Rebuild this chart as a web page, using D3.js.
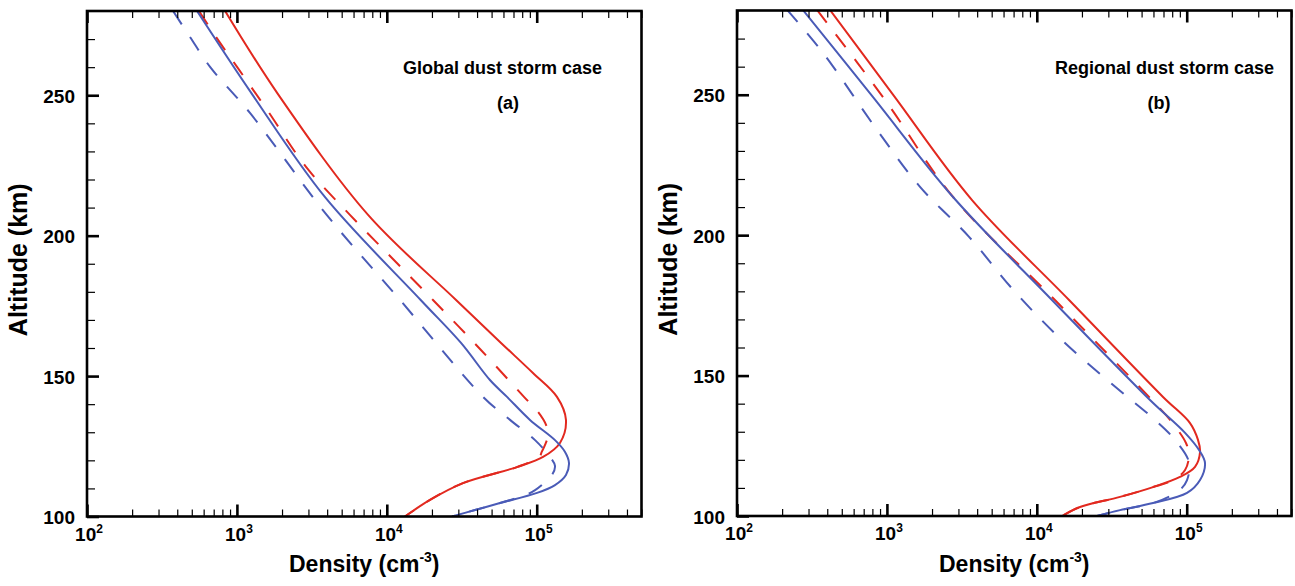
<!DOCTYPE html>
<html>
<head>
<meta charset="utf-8">
<script src="https://cdn.jsdelivr.net/npm/d3@7"></script>
<style>
  body { margin: 0; background: #fff; }
  text { font-family: "Liberation Sans", Arial, sans-serif; font-weight: bold; fill: #000; }
</style>
</head>
<body>
<svg id="chart" width="1295" height="586"></svg>
<script>
// each point: [altitude (km), density (cm^-3)]
const globalRedSolid = [
  [280, 834], [250.4, 1879], [207.4, 7499], [177.1, 28970], [161.8, 57810], [151.1, 94410],
  [142.6, 136500], [134.4, 156700], [126.2, 142900], [121.2, 110200], [117.6, 73790],
  [111.9, 32210], [105.9, 19410], [100, 13210]
];
const globalRedDashed = [
  [280, 558], [269.7, 748], [260.1, 1002], [244.8, 1589], [224.5, 2891], [207.4, 5675],
  [192.4, 10660], [177.1, 20330], [159.3, 42460], [142.6, 82220], [137.2, 102100],
  [132.6, 115400], [129, 118900], [125.5, 113600], [123, 108000], [121.2, 104000],
  [117.6, 73790], [111.9, 32210], [105.9, 19410], [100, 13210]
];
const globalBlueSolid = [
  [280, 542], [250.4, 1262], [213.7, 3873], [177.1, 16830], [161.8, 31260], [148.6, 48750],
  [142.6, 63390], [134.4, 90160], [127.2, 132400], [123, 154500], [119.1, 164100],
  [114.8, 156700], [111.2, 132400], [108.4, 100500], [104.8, 56890], [102.3, 38730],
  [100, 27230]
];
const globalBlueDashed = [
  [280, 375], [270.8, 486], [260.1, 662], [243.7, 1222], [207.4, 3972], [177.1, 12250],
  [142.6, 43850], [134.4, 66370], [127.2, 97500], [121.2, 122700], [118, 132400],
  [114.8, 126500], [111.6, 110200], [109.4, 97500], [107.7, 84950], [104.8, 56890],
  [102.3, 38730], [100, 27230]
];

const regionalRedSolid = [
  [280.2, 417], [249.6, 1114], [212.5, 3698], [176.9, 16410], [142.4, 69500], [133.1, 105200],
  [127.1, 118900], [122.8, 122700], [117.5, 113600], [113.9, 90160], [110.3, 59600],
  [106.8, 35900], [103.2, 19410], [100, 14720]
];
const regionalRedDashed = [
  [280.2, 342], [248.2, 971], [213.6, 2761], [176.9, 13210], [141.3, 58610], [134.2, 77450],
  [126, 98850], [121.7, 103500], [116.4, 97500], [112.8, 81100], [110.3, 59600],
  [106.8, 35900], [103.2, 19410], [100, 14720]
];
const regionalBlueSolid = [
  [280.2, 275], [249.6, 796], [213.6, 2761], [176.9, 12620], [141.3, 56890], [129.6, 97500],
  [123.5, 120800], [118.9, 132400], [112.8, 122700], [108.2, 100500], [104.6, 59600],
  [102.1, 35900], [100, 25230]
];
const regionalBlueDashed = [
  [280.2, 216], [264.9, 375], [237.5, 859], [217.2, 1663], [199.4, 3532], [180.2, 7047],
  [161.9, 15180], [145.5, 34280], [134.2, 61500], [127.1, 83560], [119.2, 103500],
  [112.8, 100500], [109.3, 90160], [107.1, 77450], [104.6, 59600], [102.1, 35900], [100, 25230]
];

const xMajorTicks = [1e2, 1e3, 1e4, 1e5];
const xMajorExponents = ["2", "3", "4", "5"];
const yMajorTicks = [100, 150, 200, 250];
const xDomain = [100, 5e5];
const yDomain = [100, 280];

const red = "#e2291f";
const blue = "#4a5bb7";
const dashed = "16,15";

const panels = [
  {
    left: 87, top: 11, right: 641.5, bottom: 516.5,
    title: "Global dust storm case", titleX: 403, label: "(a)", labelX: 508,
    series: [
      {data: globalRedSolid, color: red, dash: null},
      {data: globalRedDashed, color: red, dash: dashed},
      {data: globalBlueSolid, color: blue, dash: null},
      {data: globalBlueDashed, color: blue, dash: dashed}
    ]
  },
  {
    left: 737, top: 10.5, right: 1291.5, bottom: 516,
    title: "Regional dust storm case", titleX: 1055, label: "(b)", labelX: 1159,
    series: [
      {data: regionalRedSolid, color: red, dash: null},
      {data: regionalRedDashed, color: red, dash: dashed},
      {data: regionalBlueSolid, color: blue, dash: null},
      {data: regionalBlueDashed, color: blue, dash: dashed}
    ]
  }
];

// minor ticks: 2..9 times each decade, inside the domain
let xMinorTicks = [];
for (let dec of [1e2, 1e3, 1e4, 1e5]) {
  for (let m = 2; m <= 9; m++) {
    if (dec * m <= xDomain[1]) xMinorTicks.push(dec * m);
  }
}
let yMinorTicks = d3.range(110, 280, 10).filter(v => v % 50 != 0);

const svg = d3.select("#chart");
svg.append("rect").attr("width", 1295).attr("height", 586).attr("fill", "#fff");

panels.forEach(function(p, i) {
  let g = svg.append("g").attr("id", "panel" + i);
  let x = d3.scaleLog().domain(xDomain).range([p.left, p.right]);
  let y = d3.scaleLinear().domain(yDomain).range([p.bottom, p.top]);

  g.append("clipPath").attr("id", "clip" + i)
    .append("rect")
    .attr("x", p.left).attr("y", p.top)
    .attr("width", p.right - p.left).attr("height", p.bottom - p.top);

  //curves
  let line = d3.line()
    .x(d => x(d[1]))
    .y(d => y(d[0]))
    .curve(d3.curveCatmullRom.alpha(0.5));
  g.append("g").attr("clip-path", "url(#clip" + i + ")")
    .selectAll("path").data(p.series).join("path")
    .attr("d", d => line(d.data))
    .attr("fill", "none")
    .attr("stroke", d => d.color)
    .attr("stroke-width", 2)
    .attr("stroke-dasharray", d => d.dash);

  //ticks (all pointing inward)
  let addAxis = function(axis, transform, width) {
    let a = g.append("g").attr("transform", transform).call(axis);
    a.select(".domain").remove();
    a.selectAll("text").remove();
    a.selectAll("line").attr("stroke", "#000").attr("stroke-width", width);
    return a;
  };
  addAxis(d3.axisBottom(x).tickValues(xMinorTicks).tickSizeInner(-7).tickSizeOuter(0), `translate(0,${p.bottom})`, 1.2);
  addAxis(d3.axisTop(x).tickValues(xMinorTicks).tickSizeInner(-7).tickSizeOuter(0), `translate(0,${p.top})`, 1.2);
  addAxis(d3.axisBottom(x).tickValues(xMajorTicks).tickSizeInner(-12).tickSizeOuter(0), `translate(0,${p.bottom})`, 2.6);
  addAxis(d3.axisTop(x).tickValues(xMajorTicks).tickSizeInner(-12).tickSizeOuter(0), `translate(0,${p.top})`, 2.6);
  addAxis(d3.axisLeft(y).tickValues(yMinorTicks).tickSizeInner(-8).tickSizeOuter(0), `translate(${p.left},0)`, 1.2);
  addAxis(d3.axisLeft(y).tickValues(yMajorTicks).tickSizeInner(-12).tickSizeOuter(0), `translate(${p.left},0)`, 2.6);

  //frame
  g.append("rect")
    .attr("x", p.left).attr("y", p.top)
    .attr("width", p.right - p.left).attr("height", p.bottom - p.top)
    .attr("fill", "none").attr("stroke", "#000").attr("stroke-width", 2.6);

  //tick labels
  g.selectAll(".ylab").data(yMajorTicks).join("text")
    .attr("class", "ylab")
    .attr("x", p.left - 12)
    .attr("y", d => y(d) + 1)
    .attr("dy", "0.35em")
    .attr("text-anchor", "end")
    .attr("font-size", 19)
    .text(d => d);

  let xl = g.selectAll(".xlab").data(xMajorTicks).join("text")
    .attr("class", "xlab")
    .attr("x", d => x(d) + 2)
    .attr("y", p.bottom + 24)
    .attr("text-anchor", "middle")
    .attr("font-size", 19);
  xl.append("tspan").text("10");
  xl.append("tspan").attr("font-size", 12).attr("dy", -8).text((d, j) => xMajorExponents[j]);

  //axis titles
  g.append("text")
    .attr("transform", `translate(${p.left - 60},${(p.top + p.bottom) / 2 - 4}) rotate(-90)`)
    .attr("text-anchor", "middle")
    .attr("font-size", 25)
    .text("Altitude (km)");

  let xt = g.append("text")
    .attr("x", (p.left + p.right) / 2)
    .attr("y", 572)
    .attr("text-anchor", "middle")
    .attr("font-size", 23);
  xt.append("tspan").text("Density (cm");
  xt.append("tspan").attr("font-size", 14).attr("dy", -10).text("-3");
  xt.append("tspan").attr("dy", 10).text(")");

  //annotation
  g.append("text").attr("x", p.titleX).attr("y", 74).attr("font-size", 18).text(p.title);
  g.append("text").attr("x", p.labelX).attr("y", 109).attr("text-anchor", "middle")
    .attr("font-size", 18).text(p.label);
});
</script>
</body>
</html>
